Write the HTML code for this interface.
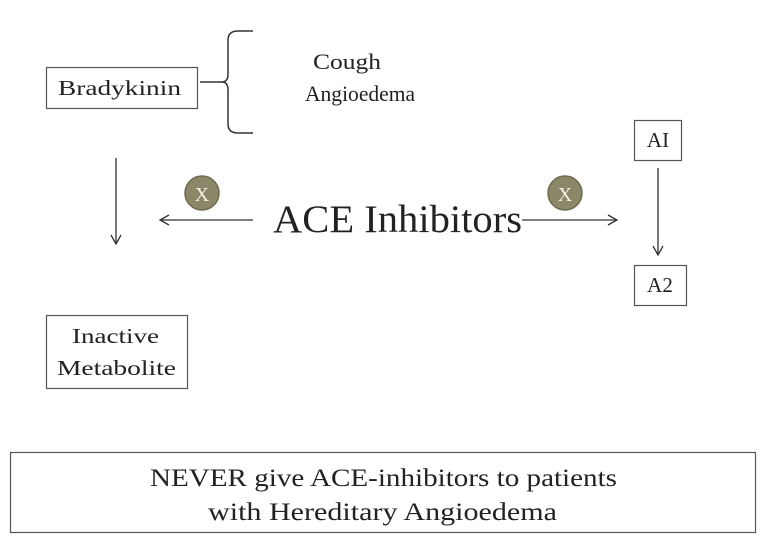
<!DOCTYPE html>
<html><head><meta charset="utf-8"><style>
body{margin:0;background:#fff}
svg{display:block}
text{font-family:"Liberation Serif",serif;fill:#222}
</style></head><body>
<svg width="762" height="545" viewBox="0 0 762 545">
<defs><marker id="ah" markerWidth="12" markerHeight="12" refX="10" refY="6" orient="auto" markerUnits="userSpaceOnUse"><path d="M1,1 L10,6 L1,11" fill="none" stroke="#333" stroke-width="1.3"/></marker></defs>
<g>
<rect x="46.5" y="67.5" width="151" height="41" fill="#fff" stroke="#555" stroke-width="1.2"/>
<text x="58" y="95" font-size="21" textLength="123" lengthAdjust="spacingAndGlyphs">Bradykinin</text></g>
<path d="M200,82 L222,82 Q228,82 228,74 L228,40 Q228,31 238,31 L253,31 M222,82 Q228,82 228,90 L228,124 Q228,133 238,133 L253,133" fill="none" stroke="#333" stroke-width="1.5"/>
<text x="313" y="69" font-size="22" textLength="68" lengthAdjust="spacingAndGlyphs">Cough</text>
<text x="305" y="101" font-size="22" textLength="110" lengthAdjust="spacingAndGlyphs">Angioedema</text>
<line x1="116" y1="158" x2="116" y2="244" stroke="#333" stroke-width="1.3" marker-end="url(#ah)"/>
<line x1="253" y1="220" x2="160" y2="220" stroke="#333" stroke-width="1.3" marker-end="url(#ah)"/>
<g><circle cx="202" cy="193" r="17" fill="#8b8769" stroke="#6e6a50" stroke-width="1.5"/><text x="202" y="201" font-size="20" text-anchor="middle" style="fill:#f3f1e6">X</text></g>
<text x="273" y="232" font-size="39" textLength="249" lengthAdjust="spacingAndGlyphs">ACE Inhibitors</text>
<line x1="522" y1="220" x2="617" y2="220" stroke="#333" stroke-width="1.3" marker-end="url(#ah)"/>
<g><circle cx="565" cy="193" r="17" fill="#8b8769" stroke="#6e6a50" stroke-width="1.5"/><text x="565" y="201" font-size="20" text-anchor="middle" style="fill:#f3f1e6">X</text></g>
<g><rect x="634.5" y="120.5" width="47" height="40" fill="#fff" stroke="#555" stroke-width="1.2"/><text x="658" y="147" font-size="21" text-anchor="middle">AI</text></g>
<line x1="658" y1="168" x2="658" y2="255" stroke="#333" stroke-width="1.3" marker-end="url(#ah)"/>
<g><rect x="634.5" y="265.5" width="52" height="40" fill="#fff" stroke="#555" stroke-width="1.2"/><text x="660" y="292" font-size="21" text-anchor="middle">A2</text></g>
<g><rect x="46.5" y="315.5" width="141" height="73" fill="#fff" stroke="#555" stroke-width="1.2"/>
<text x="72" y="343" font-size="21" textLength="87" lengthAdjust="spacingAndGlyphs">Inactive</text><text x="57" y="375" font-size="21" textLength="119" lengthAdjust="spacingAndGlyphs">Metabolite</text></g>
<g><rect x="10.5" y="452.5" width="745" height="80" fill="#fff" stroke="#555" stroke-width="1.2"/>
<text x="150" y="486" font-size="25" textLength="467" lengthAdjust="spacingAndGlyphs">NEVER give ACE-inhibitors to patients</text>
<text x="208" y="520" font-size="25" textLength="349" lengthAdjust="spacingAndGlyphs">with Hereditary Angioedema</text></g>
</svg>
</body></html>
